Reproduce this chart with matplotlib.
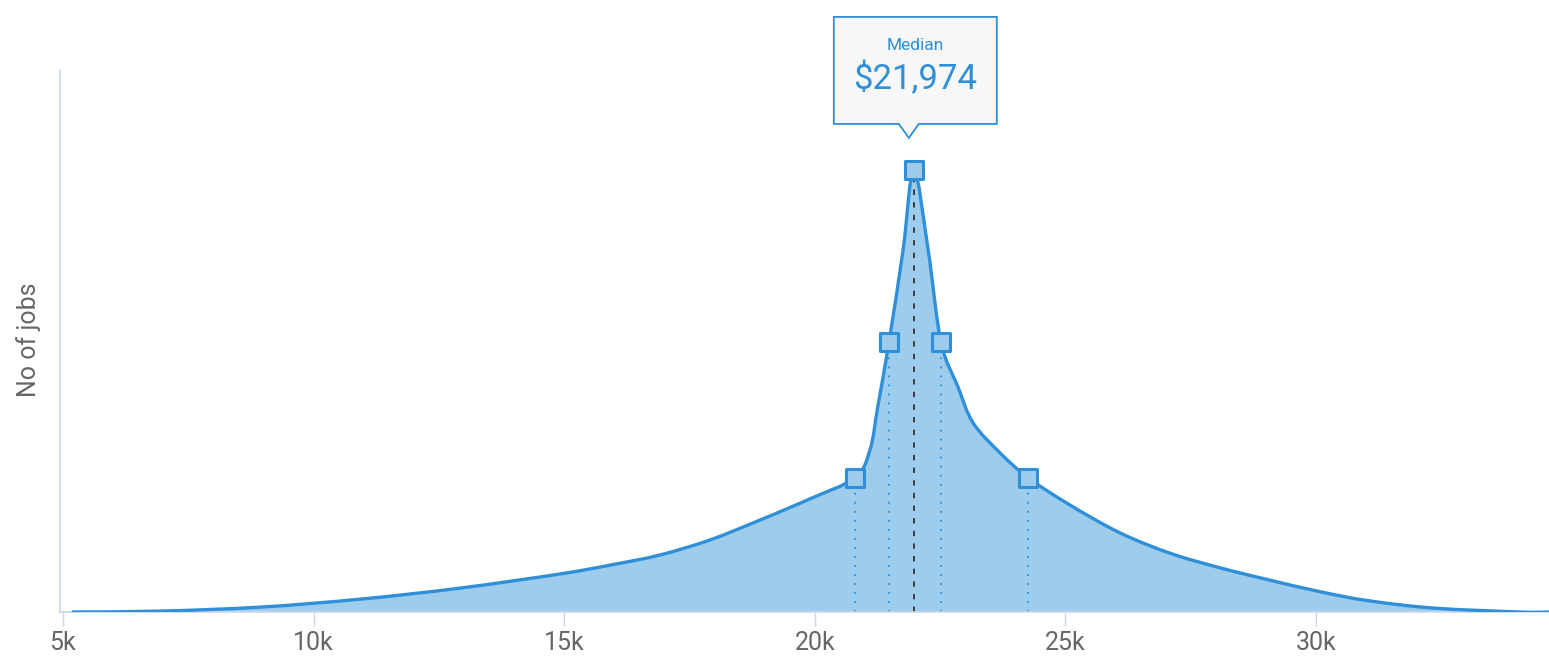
import numpy as np
import matplotlib
matplotlib.use("Agg")
import matplotlib.pyplot as plt
from matplotlib.path import Path
from matplotlib.patches import PathPatch
from matplotlib.markers import MarkerStyle
import matplotlib.transforms as mtransforms

plt.rcParams['font.family'] = ['Roboto', 'DejaVu Sans']

# salary distribution (relative job counts, peak = 100)
salary = [5200, 6935, 8930, 10925, 12920, 14915, 15913, 16910, 17908, 18905,
          19903, 20800, 21100, 21260, 21480, 21760, 21974, 22260, 22515, 22855,
          23155, 23693, 24252, 25089, 26087, 27085, 28082, 29080, 30077, 31015,
          32330, 34070, 34650]
jobs = [0, 0.2, 1.1, 2.9, 5.4, 8.6, 10.6, 12.9, 16.3, 20.8,
        25.6, 30.4, 36.7, 46.8, 61.1, 81.9, 100, 81.9, 61.1, 50.9,
        42.8, 36.0, 30.4, 24.2, 17.9, 13.3, 10.0, 7.2, 4.6, 2.6,
        0.9, 0, 0]

# percentile markers (10, 25, 50, 75, 90)
pct_salary = [20800, 21480, 21974, 22515, 24252]
pct_jobs = [30.4, 61.1, 100, 61.1, 30.4]
median = 21974

xticks = [5000, 10000, 15000, 20000, 25000, 30000]
xticklabels = ['5k', '10k', '15k', '20k', '25k', '30k']

line_c = '#2f8fd8'
fill_c = '#9dccec'
axis_c = '#ccd6eb'
text_c = '#666666'


def spline_path(xs, ys):
    # cubic bezier through the points (catmull-rom style control points)
    p = np.column_stack([xs, ys]).astype(float)
    n = len(p)
    verts = [tuple(p[0])]
    codes = [Path.MOVETO]
    for i in range(n - 1):
        p0 = p[max(i - 1, 0)]
        p1 = p[i]
        p2 = p[i + 1]
        p3 = p[min(i + 2, n - 1)]
        c1 = p1 + (p2 - p0) / 6
        c2 = p2 - (p3 - p1) / 6
        verts += [tuple(c1), tuple(c2), tuple(p2)]
        codes += [Path.CURVE4] * 3
    return verts, codes


fig = plt.figure(figsize=(15.49, 6.63), dpi=100)
ax = fig.add_axes([60/1549, 51/663, 1489/1549, 542/663])

v, c = spline_path(salary, jobs)
fv = v + [(salary[-1], 0), (salary[0], 0), v[0]]
fc = c + [Path.LINETO, Path.LINETO, Path.CLOSEPOLY]
ax.add_patch(PathPatch(Path(fv, fc), facecolor=fill_c, lw=0, zorder=1))
ax.add_patch(PathPatch(Path(v, c), facecolor='none', edgecolor=line_c, lw=2.4,
                       joinstyle='round', capstyle='round', zorder=3))

# percentile guide lines
for s, j in zip(pct_salary, pct_jobs):
    if s == median:
        ax.plot([s, s], [0, j], color='#333333', lw=1.3, ls=(0, (3, 4)), zorder=2)
    else:
        ax.plot([s, s], [0, j - 3], color=line_c, lw=1.3, ls=(0, (1, 4)), zorder=2)

ax.plot(pct_salary, pct_jobs, ls='none', marker=MarkerStyle('s', joinstyle='round'),
        ms=13.5, mfc=fill_c, mec=line_c, mew=2.2, zorder=4)

ax.set_xlim(4940, 34646)
ax.set_ylim(0, 122.6)
ax.set_xticks(xticks)
ax.set_xticklabels(xticklabels)
ax.set_yticks([])
ax.tick_params(axis='x', length=10, width=1, color=axis_c, labelcolor=text_c,
               labelsize=18, pad=4)
for side in ['top', 'right']:
    ax.spines[side].set_visible(False)
for side in ['left', 'bottom']:
    ax.spines[side].set_color(axis_c)
    ax.spines[side].set_linewidth(1.2)

fig.text(29/1549, 1 - 340/663, 'No of jobs', rotation=90, ha='center',
         va='center', fontsize=18, color=text_c)

# tooltip callout, drawn in pixels relative to the median point
tr = mtransforms.Affine2D() + mtransforms.ScaledTranslation(median, 100, ax.transData)
verts = [(-80, 46), (-15, 46), (-5, 32), (5, 46), (83, 46), (83, 153),
         (-80, 153), (-80, 46)]
codes = [Path.MOVETO] + [Path.LINETO] * 6 + [Path.CLOSEPOLY]
ax.add_patch(PathPatch(Path(verts, codes), transform=tr, facecolor='#f7f7f7',
                       edgecolor=line_c, lw=1.3, zorder=5, clip_on=False))
ax.annotate('Median', xy=(median, 100), xytext=(1, 124), textcoords='offset pixels',
            ha='center', va='center', fontsize=12.5, color=line_c, zorder=6)
ax.annotate('$21,974', xy=(median, 100), xytext=(1, 91), textcoords='offset pixels',
            ha='center', va='center', fontsize=25, color=line_c, zorder=6)

fig.savefig('out.png', dpi=100)
